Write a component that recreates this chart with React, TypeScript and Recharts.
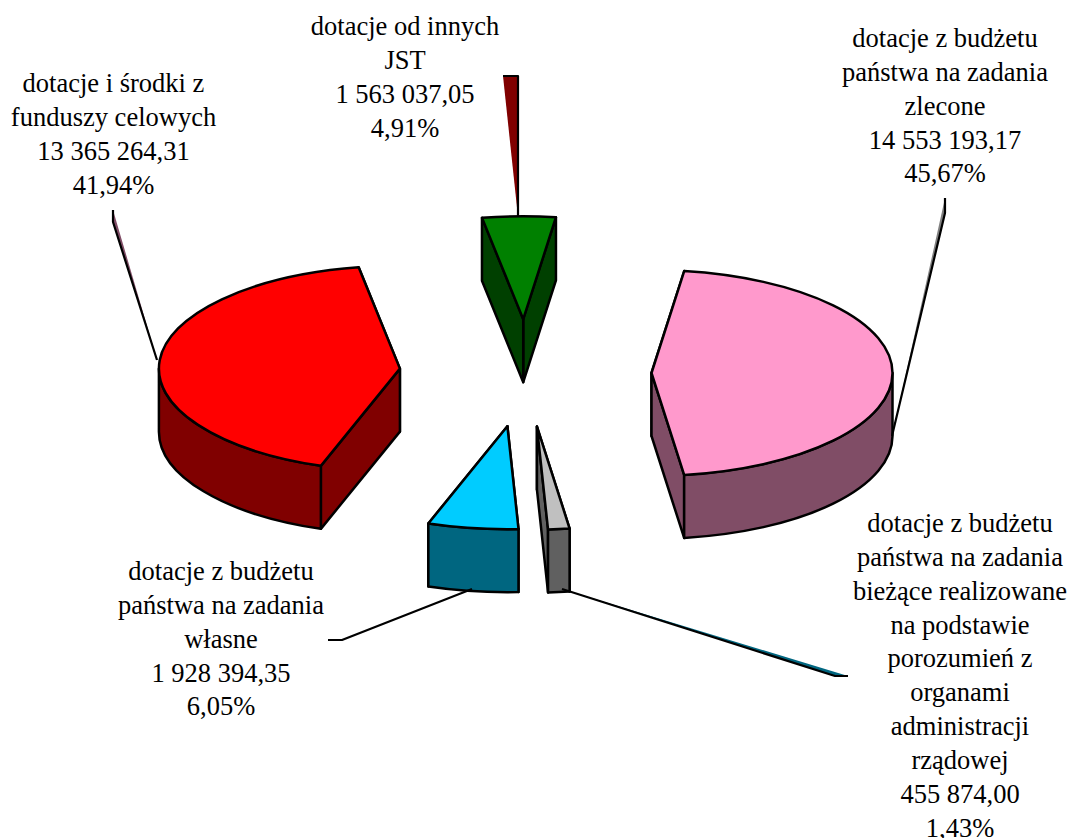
import React from "react";
import { PieChart, Pie } from "recharts";

const categories: string[][] = [
  ["dotacje z budżetu", "państwa na zadania", "zlecone"],
  ["dotacje z budżetu", "państwa na zadania", "bieżące realizowane", "na podstawie", "porozumień z", "organami", "administracji", "rządowej"],
  ["dotacje z budżetu", "państwa na zadania", "własne"],
  ["dotacje i środki z", "funduszy celowych"],
  ["dotacje od innych", "JST"],
];
const values = [14553193.17, 455874.0, 1928394.35, 13365264.31, 1563037.05];
const percents = ["45,67%", "1,43%", "6,05%", "41,94%", "4,91%"];

const topColors = ["#FF99CC", "#C0C0C0", "#00CCFF", "#FF0000", "#008000"];
const wallColors = ["#804D66", "#606060", "#006680", "#800000", "#004000"];
const leaderFills = ["#808080", "#006680", "none", "#804D66", "#800000"];

const labelCentres: [number, number][] = [[945, 47], [960, 532], [221, 580], [113.5, 92], [405, 35]];
const leaderPaths: [number, number][][] = [
  [[945, 198], [945, 213], [892, 436]],
  [[562, 589], [835, 676], [848, 676]],
  [[328, 640], [342, 640], [472, 589]],
  [[113, 210], [113, 222], [157, 360]],
  [[503, 76], [518, 76], [518, 217]],
];

const WIDTH = 1070;
const HEIGHT = 838;
const CX = 525.5;
const CY = 373;
const RADIUS = 241;
const TILT = 0.427;
const EXPLODE = 126;
const DEPTH = 63;
const LINE_HEIGHT = 33.85;
const START_ANGLE = 82.2;

const rows = values.map((value, i) => ({ name: categories[i].join(" "), value, fill: topColors[i], idx: i }));

const formatValue = (v: number) => {
  const [a, b] = v.toFixed(2).split(".");
  return a.replace(/\B(?=(\d{3})+$)/g, " ") + "," + b;
};

const rad = (d: number) => (d * Math.PI) / 180;

function Slice3D(props: any) {
  const { cx, cy, outerRadius: R, startAngle, endAngle, payload } = props;
  const idx = payload?.idx ?? props.idx ?? props.index ?? 0;
  const ry = R * TILT;
  // clockwise degrees from 12 o'clock
  const c0 = 90 - startAngle;
  const c1 = 90 - endAngle;
  const mid = (c0 + c1) / 2;
  const ax = cx + EXPLODE * Math.sin(rad(mid));
  const ay = cy - EXPLODE * TILT * Math.cos(rad(mid));
  const pt = (c: number, dy = 0): [number, number] => [
    ax + R * Math.sin(rad(c)),
    ay - ry * Math.cos(rad(c)) + dy,
  ];
  const arc = (a: number, b: number, dy = 0) => {
    const [x, y] = pt(b, dy);
    const large = Math.abs(b - a) > 180 ? 1 : 0;
    const sweep = b > a ? 1 : 0;
    return `A ${R} ${ry} 0 ${large} ${sweep} ${x} ${y}`;
  };
  const radial = (c: number) => {
    const [x, y] = pt(c);
    return { y, d: `M ${ax} ${ay} L ${x} ${y} L ${x} ${y + DEPTH} L ${ax} ${ay + DEPTH} Z` };
  };
  const walls = [radial(c0), radial(c1)].sort((p, q) => p.y - q.y);
  const w0 = Math.max(c0, 90);
  const w1 = Math.min(c1, 270);
  const wall = wallColors[idx];
  const common = { stroke: "#000", strokeWidth: 2.5, strokeLinejoin: "round" as const };
  const [sx, sy] = pt(c0);
  return (
    <g>
      {walls.map((w, i) => (
        <path key={i} d={w.d} fill={wall} {...common} />
      ))}
      {w1 > w0 && (
        <path
          d={`M ${pt(w0)[0]} ${pt(w0)[1]} ${arc(w0, w1)} L ${pt(w1, DEPTH)[0]} ${pt(w1, DEPTH)[1]} ${arc(w1, w0, DEPTH)} Z`}
          fill={wall}
          {...common}
        />
      )}
      <path d={`M ${ax} ${ay} L ${sx} ${sy} ${arc(c0, c1)} Z`} fill={topColors[idx]} {...common} />
    </g>
  );
}

function SliceLabel(props: any) {
  const idx = props.index ?? props.payload?.idx ?? 0;
  const [x, y] = labelCentres[idx];
  const lines = [...categories[idx], formatValue(values[idx]), percents[idx]];
  const path = leaderPaths[idx];
  const pts = path.map((p) => p.join(",")).join(" ");
  return (
    <g>
      {leaderFills[idx] !== "none" && <polygon points={pts} fill={leaderFills[idx]} stroke="none" />}
      <polyline points={pts} fill="none" stroke="#000" strokeWidth={2.2} strokeLinejoin="round" />
      <text
        x={x}
        y={y}
        textAnchor="middle"
        fontFamily="'Liberation Serif', serif"
        fontSize={26.5}
        fill="#000"
      >
        {lines.map((line, i) => (
          <tspan key={i} x={x} y={y + i * LINE_HEIGHT}>
            {line}
          </tspan>
        ))}
      </text>
    </g>
  );
}

export default function App() {
  return (
    <div style={{ position: "absolute", left: 0, top: 0, width: WIDTH, height: HEIGHT }}>
      <PieChart width={WIDTH} height={HEIGHT} margin={{ top: 0, right: 0, bottom: 0, left: 0 }}>
        <Pie
          data={rows}
          dataKey="value"
          nameKey="name"
          cx={CX}
          cy={CY}
          innerRadius={0}
          outerRadius={RADIUS}
          startAngle={START_ANGLE}
          endAngle={START_ANGLE - 360}
          stroke="none"
          isAnimationActive={false}
          shape={Slice3D}
          label={SliceLabel}
          labelLine={false}
        />
      </PieChart>
    </div>
  );
}
